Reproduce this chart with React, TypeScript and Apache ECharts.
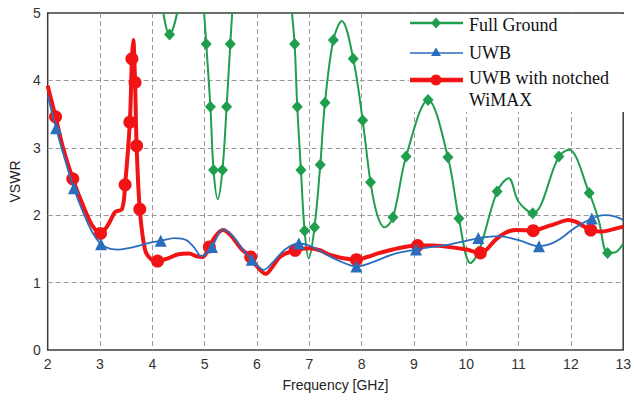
import React, { useEffect, useRef } from "react";
import * as echarts from "echarts";

// ---- data ----
const xTickMin = 2;
const xTickMax = 13;
const yTickMin = 0;
const yTickMax = 5;

const seriesNames = ["Full Ground", "UWB", "UWB with notched WiMAX"];

// Full Ground: curve points (no marker) and marker points (diamonds)
const fullGroundCurve: [number, number][] = [
  [4.0, 6.2], [4.15, 5.3], [4.5, 5.1], [4.7, 6.2], [4.85, 6.2], [4.98, 5.1],
  [5.25, 2.24], [5.53, 5.05], [5.62, 6.2], [6.1, 7.2], [6.58, 6.0], [6.67, 5.0],
  [6.99, 1.36], [7.62, 4.88], [8.3, 2.0], [8.44, 1.82],
  [10.08, 1.29], [10.81, 2.55], [11.0, 2.2], [11.96, 2.97], [12.53, 1.93],
  [12.85, 1.45], [13.0, 1.58],
];
const fullGroundMarks: [number, number][] = [
  [4.33, 4.68], [5.03, 4.54], [5.11, 3.61], [5.17, 2.67], [5.34, 2.67],
  [5.42, 3.61], [5.49, 4.54], [6.72, 4.54], [6.77, 3.61], [6.84, 2.67],
  [6.91, 1.77], [7.1, 1.82], [7.21, 2.75], [7.3, 3.67], [7.46, 4.6],
  [7.84, 4.32], [8.02, 3.41], [8.17, 2.49], [8.6, 1.97], [8.85, 2.87],
  [9.27, 3.71], [9.65, 2.86], [9.86, 1.95], [10.24, 1.46], [10.59, 2.35],
  [11.27, 2.03], [11.77, 2.87], [12.35, 2.33], [12.7, 1.44],
];

// UWB: curve points and marker points (triangles)
const uwbCurve: [number, number][] = [
  [2.0, 3.78], [2.33, 2.83], [2.7, 2.0], [2.85, 1.75], [3.2, 1.5], [3.36, 1.49],
  [3.6, 1.52], [3.8, 1.56], [4.0, 1.6], [4.43, 1.66], [4.65, 1.63], [4.8, 1.52],
  [4.94, 1.39], [5.35, 1.79], [5.55, 1.68], [5.75, 1.47], [6.13, 1.19],
  [6.3, 1.3], [6.55, 1.5], [7.0, 1.55], [7.25, 1.45], [7.55, 1.33], [8.2, 1.3],
  [8.6, 1.42], [9.35, 1.53], [9.65, 1.56], [10.0, 1.62], [10.62, 1.69],
  [11.0, 1.63], [11.6, 1.57], [11.8, 1.65], [12.07, 1.81], [12.64, 2.0],
  [12.85, 1.98], [13.0, 1.93],
];
const uwbMarks: [number, number][] = [
  [2.16, 3.29], [2.5, 2.4], [3.02, 1.57], [4.16, 1.62], [5.14, 1.53],
  [5.9, 1.34], [6.8, 1.58], [7.9, 1.24], [9.04, 1.49], [10.23, 1.66],
  [11.39, 1.54], [12.4, 1.95],
];

// UWB with notched WiMAX: curve points and marker points (circles)
const notchedCurve: [number, number][] = [
  [2.0, 3.92], [2.3, 2.98], [2.7, 2.1], [2.85, 1.85], [3.17, 1.88],
  [3.29, 2.05], [3.42, 2.09], [3.635, 4.6], [3.86, 1.49], [3.97, 1.35],
  [4.3, 1.36], [4.5, 1.42], [4.7, 1.43], [4.85, 1.39], [4.96, 1.38],
  [5.2, 1.68], [5.35, 1.78], [5.5, 1.7], [5.7, 1.5], [6.0, 1.24], [6.17, 1.13],
  [6.3, 1.24], [6.45, 1.39], [7.0, 1.51], [7.2, 1.48], [7.4, 1.41], [7.65, 1.36],
  [8.1, 1.38], [8.35, 1.44], [8.7, 1.51], [9.35, 1.55], [9.65, 1.53], [10.0, 1.49],
  [10.4, 1.5], [10.55, 1.63], [10.75, 1.74], [10.95, 1.78], [11.5, 1.82],
  [11.7, 1.87], [11.95, 1.93], [12.1, 1.9], [12.6, 1.76], [12.8, 1.79], [13.0, 1.83],
];
const notchedMarks: [number, number][] = [
  [2.15, 3.46], [2.48, 2.54], [3.01, 1.73], [3.48, 2.45], [3.57, 3.38],
  [3.61, 4.32], [3.67, 3.97], [3.70, 3.03], [3.76, 2.09], [4.1, 1.32],
  [5.09, 1.53], [5.88, 1.38], [6.73, 1.48], [7.9, 1.34], [9.07, 1.55],
  [10.27, 1.44], [11.28, 1.77], [12.38, 1.78],
];

const GREEN = "#1f9e4e";
const BLUE = "#2a6ebd";
const RED = "#f21414";

const merge = (a: [number, number][], b: [number, number][]) =>
  [...a, ...b].sort((p, q) => p[0] - q[0]);

export default function App() {
  const ref = useRef<HTMLDivElement>(null);

  useEffect(() => {
    if (!ref.current) return;
    const chart = echarts.init(ref.current, undefined, { renderer: "svg" });

    const labelFont = "'Liberation Sans', Arial, sans-serif";
    const serif = "'Liberation Serif', 'Times New Roman', serif";

    const lineBase = (name: string, data: [number, number][], color: string, width: number, z: number) => ({
      name,
      type: "line",
      data,
      smooth: 0.35,
      showSymbol: false,
      symbol: "none",
      clip: true,
      z,
      lineStyle: { color, width },
      itemStyle: { color },
      emphasis: { disabled: true },
    });
    const marks = (name: string, data: [number, number][], color: string, symbol: string, size: number | number[], z: number) => ({
      name,
      type: "scatter",
      data,
      symbol,
      symbolSize: size,
      clip: true,
      z,
      itemStyle: { color, opacity: 1 },
      emphasis: { disabled: true },
    });

    chart.setOption({
      animation: false,
      backgroundColor: "#ffffff",
      grid: {
        left: 45,
        right: 9,
        top: 13,
        bottom: 50,
        show: true,
        backgroundColor: "#ffffff",
        borderColor: "#3c3c3c",
        borderWidth: 1.5,
      },
      xAxis: {
        type: "value",
        min: xTickMin,
        max: xTickMax,
        interval: 1,
        name: "Frequency [GHz]",
        nameLocation: "middle",
        nameGap: 28,
        nameTextStyle: { fontFamily: labelFont, fontSize: 14, color: "#222" },
        axisLine: { show: false },
        axisTick: { show: false },
        axisLabel: { fontFamily: labelFont, fontSize: 14, color: "#333", margin: 7 },
        splitLine: {
          show: true,
          showMinLine: false,
          showMaxLine: false,
          lineStyle: { color: "#9a9a9a", width: 1, type: [5, 3] },
        },
      },
      yAxis: {
        type: "value",
        min: yTickMin,
        max: yTickMax,
        interval: 1,
        name: "VSWR",
        nameLocation: "middle",
        nameGap: 20,
        nameTextStyle: { fontFamily: labelFont, fontSize: 14, color: "#222" },
        axisLine: { show: false },
        axisTick: { show: false },
        axisLabel: { fontFamily: labelFont, fontSize: 14, color: "#333", margin: 7 },
        splitLine: {
          show: true,
          showMinLine: false,
          showMaxLine: false,
          lineStyle: { color: "#9a9a9a", width: 1, type: [5, 3] },
        },
      },
      series: [
        lineBase(seriesNames[0], merge(fullGroundCurve, fullGroundMarks), GREEN, 2, 2),
        marks(seriesNames[0], fullGroundMarks, GREEN, "diamond", [11, 12], 3),
        lineBase(seriesNames[2], merge(notchedCurve, notchedMarks), RED, 4, 4),
        marks(seriesNames[2], notchedMarks, RED, "circle", 13, 5),
        lineBase(seriesNames[1], merge(uwbCurve, uwbMarks), BLUE, 1.8, 6),
        marks(seriesNames[1], uwbMarks, BLUE, "triangle", 12, 7),
      ],
      graphic: {
        elements: [
          {
            type: "rect",
            z: 1,
            shape: { x: 409, y: 14, width: 215, height: 98 },
            style: { fill: "#ffffff" },
            silent: true,
          },
          // legend: Full Ground
          { type: "line", z: 20, shape: { x1: 410, y1: 23, x2: 463, y2: 23 }, style: { stroke: GREEN, lineWidth: 2.5 } },
          {
            type: "polygon",
            z: 21,
            shape: { points: [[436, 17.5], [441, 23], [436, 28.5], [431, 23]] },
            style: { fill: GREEN },
          },
          // legend: UWB
          { type: "line", z: 20, shape: { x1: 410, y1: 53, x2: 463, y2: 53 }, style: { stroke: BLUE, lineWidth: 1.5 } },
          {
            type: "polygon",
            z: 21,
            shape: { points: [[436, 47.5], [441, 56], [431, 56]] },
            style: { fill: BLUE },
          },
          // legend: UWB with notched WiMAX
          { type: "line", z: 20, shape: { x1: 410, y1: 80, x2: 463, y2: 80 }, style: { stroke: RED, lineWidth: 4.5 } },
          { type: "circle", z: 21, shape: { cx: 436, cy: 80, r: 5.5 }, style: { fill: RED } },
          {
            type: "text",
            z: 22,
            x: 469,
            y: 25,
            style: { text: seriesNames[0], font: `18px ${serif}`, fill: "#111", verticalAlign: "middle" },
          },
          {
            type: "text",
            z: 22,
            x: 469,
            y: 53,
            style: { text: seriesNames[1], font: `18px ${serif}`, fill: "#111", verticalAlign: "middle" },
          },
          {
            type: "text",
            z: 22,
            x: 469,
            y: 67,
            style: {
              text: "UWB with notched\nWiMAX",
              font: `18px ${serif}`,
              lineHeight: 22,
              fill: "#111",
              verticalAlign: "top",
            },
          },
        ],
      },
    });

    return () => chart.dispose();
  }, []);

  return (
    <div
      ref={ref}
      style={{ position: "fixed", left: 0, top: 0, width: 634, height: 400 }}
    />
  );
}
